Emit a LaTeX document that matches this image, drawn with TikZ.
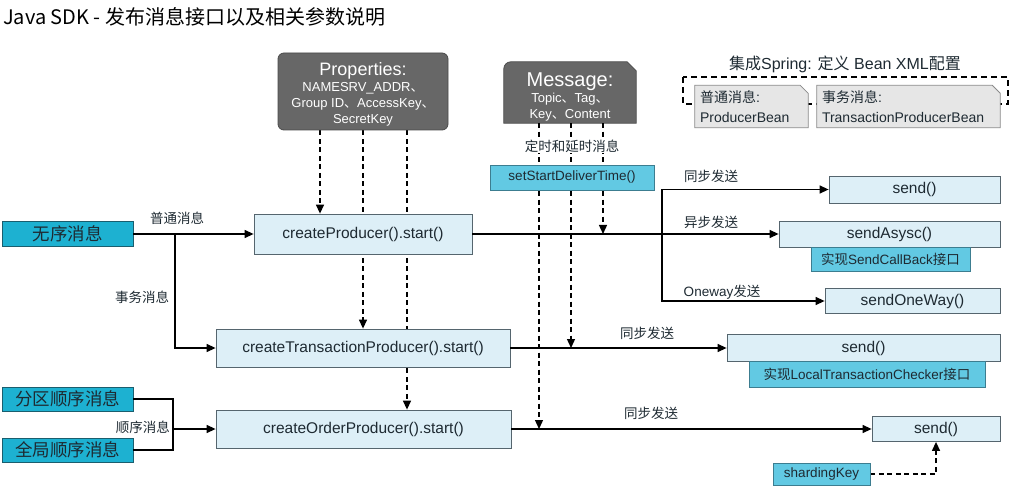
\documentclass[tikz,border=0pt]{standalone}
\usepackage{fontspec}
\setmainfont{Liberation Sans}
\newfontfamily\cjk{Noto Sans CJK SC}
\usetikzlibrary{arrows.meta}
\usetikzlibrary{backgrounds}
\definecolor{propgray}{HTML}{676767}
\definecolor{propedge}{HTML}{4A4A4A}
\definecolor{calfill}{HTML}{DDEFF7}
\definecolor{caledge}{HTML}{55656E}
\definecolor{tealfill}{HTML}{1DB1D1}
\definecolor{tealedge}{HTML}{1A5E6E}
\definecolor{cyanfill}{HTML}{62C9E3}
\definecolor{cyanedge}{HTML}{3C7D90}
\definecolor{beanfill}{HTML}{E6E6E6}
\definecolor{beanedge}{HTML}{8A8A8A}
\definecolor{textdark}{HTML}{1E2A32}
\newcommand{\fsz}[2]{\fontsize{#1}{#2}\selectfont}
\tikzset{callbox/.style={draw=caledge, fill=calfill, line width=0.8pt, inner sep=0pt,
           text=textdark, font=\fsz{15.5}{18}},
         darkbox/.style={draw=propedge, fill=propgray, line width=0.8pt, rounded corners=6pt,
           inner sep=0pt, text=white, align=center},
         typebox/.style={draw=tealedge, fill=tealfill, line width=0.8pt, inner sep=0pt,
           text=textdark, font=\cjk\fsz{17.5}{20}, minimum width=131pt},
         notebox/.style={draw=cyanedge, fill=cyanfill, line width=0.8pt, inner sep=0pt,
           text=textdark, font=\fsz{13.5}{16}},
         beanbox/.style={inner sep=5pt, align=left, minimum height=41pt, text=textdark,
           font=\fsz{14}{20}},
         edgelbl/.style={inner sep=1pt, text=textdark, font=\cjk\fsz{13.5}{16}},
         arr/.style={-{Triangle[length=9pt,width=8pt]}, line width=1.3pt},
         dasharr/.style={arr, dash pattern=on 5pt off 3.5pt}}
\begin{document}
\begin{tikzpicture}[x=1pt,y=-1pt]
\useasboundingbox (0,0) rectangle (1011,486);
\node[anchor=west, inner sep=0pt, font=\cjk\fsz{20}{22}] (title) at (3,17) {Java SDK - 发布消息接口以及相关参数说明};
% parameters
\node[darkbox, minimum width=170pt, minimum height=77pt, font=\fsz{13}{16}] (props) at (363,91.5)
  {\rule{0pt}{19pt}{\fsz{18}{20}Properties:}\\NAMESRV\_ADDR{\cjk 、}\\Group ID{\cjk 、}AccessKey{\cjk 、}\\SecretKey};
\node[inner sep=0pt, minimum width=132pt, minimum height=61pt, text=white, align=center,
  font=\fsz{13}{16}] (msg) at (570,92.5)
  {\rule{0pt}{22.5pt}{\fsz{20}{22}Message:}\\Topic{\cjk 、}Tag{\cjk 、}\\Key{\cjk 、}Content};
\node[edgelbl, fill=white] (delay) at (572,146) {定时和延时消息};
\node[notebox, minimum width=164pt, minimum height=25pt] (start) at (572,177.5) {setStartDeliverTime()};
% spring beans
\node[font=\fsz{16}{18}, inner sep=0pt, text=textdark] (spring) at (845,64)
  {{\cjk 集成}Spring: {\cjk 定义} Bean XML{\cjk 配置}};
\node[beanbox, text width=103pt] (bean1) at (751.5,106.5) {{\cjk 普通消息}:\\ProducerBean};
\node[beanbox, text width=173pt] (bean2) at (908.5,106.5) {{\cjk 事务消息}:\\TransactionProducerBean};
% message types
\node[typebox, minimum height=25pt] (wuxu) at (67.5,234) {无序消息};
\node[typebox, minimum height=24pt] (fenqu) at (67.5,399) {分区顺序消息};
\node[typebox, minimum height=24pt] (quanju) at (67.5,450) {全局顺序消息};
% producers
\node[callbox, minimum width=218pt, minimum height=40pt] (crp) at (363,234) {createProducer().start()};
\node[callbox, minimum width=294pt, minimum height=38pt] (ctp) at (363,348) {createTransactionProducer().start()};
\node[callbox, minimum width=295pt, minimum height=38pt] (cop) at (363.5,429) {createOrderProducer().start()};
% send methods
\node[callbox, minimum width=171pt, minimum height=27pt] (send1) at (914.5,189.5) {send()};
\node[callbox, minimum width=221pt, minimum height=26pt] (sasync) at (889.5,234) {sendAsysc()};
\node[notebox, minimum width=159pt, minimum height=24pt] (cb) at (890.5,259) {{\cjk 实现}SendCallBack{\cjk 接口}};
\node[callbox, minimum width=175pt, minimum height=25pt] (oneway) at (912.5,301) {sendOneWay()};
\node[callbox, minimum width=273pt, minimum height=27pt] (send2) at (863.5,348) {send()};
\node[notebox, minimum width=236pt, minimum height=26pt] (ltc) at (867,374) {{\cjk 实现}LocalTransactionChecker{\cjk 接口}};
\node[callbox, minimum width=128pt, minimum height=25pt] (send3) at (936,429) {send()};
\node[notebox, minimum width=97pt, minimum height=22pt] (shard) at (821.5,474) {shardingKey};
% edge labels
\node[edgelbl] (l1) at (177,218) {普通消息};
\node[edgelbl] (l2) at (142,297) {事务消息};
\node[edgelbl, anchor=east] (l3) at (171,427) {顺序消息};
\node[edgelbl] (l4) at (711,176) {同步发送};
\node[edgelbl] (l5) at (711,222) {异步发送};
\node[edgelbl] (l6) at (722,292) {\fontspec{Liberation Sans}Oneway{\cjk 发送}};
\node[edgelbl] (l7) at (647,333) {同步发送};
\node[edgelbl] (l8) at (651,413) {同步发送};
\coordinate (j1) at (175,234);
\coordinate (j2) at (173,429);
\coordinate (j3) at (662,234);
\begin{scope}[on background layer]
\draw[line width=1.3pt, dash pattern=on 6pt off 4pt] (683,77) rectangle (1008,104);
\foreach \b in {bean1,bean2}
  \filldraw[draw=beanedge, fill=beanfill, line width=0.8pt] (\b.south west) -- (\b.north west)
    -- ([xshift=-8pt]\b.north east) -- ([yshift=-8pt]\b.north east) -- (\b.south east) -- cycle;
\filldraw[draw=propedge, fill=propgray, line width=0.8pt] (msg.south west) -- ([yshift=-7pt]msg.north west)
  arc[start angle=180, end angle=90, radius=7pt] -- ([xshift=-9pt]msg.north east)
  -- ([yshift=-9pt]msg.north east) -- (msg.south east) -- cycle;
\foreach \x/\n in {320/crp,363/ctp,407/cop}
  \draw[dasharr] (\x,0 |- props.south) -- (\x,0 |- \n.north);
\foreach \x/\n in {539/cop,571/ctp,603/crp}
  \draw[dasharr] (\x,0 |- msg.south) -- (\x,0 |- \n.east);
\draw[dasharr] (shard.east) -| (send3.south);
\end{scope}
% flows
\draw[arr] (wuxu.east) -- (crp.west);
\draw[arr] (j1) |- (ctp.west);
\draw[line width=1.3pt] (fenqu.east) -| (j2);
\draw[line width=1.3pt] (quanju.east) -| (j2);
\draw[arr] (j2) -- (cop.west);
\draw[arr] (crp.east) -- (sasync.west);
\draw[arr] (j3) |- (send1.west);
\draw[arr] (j3) |- (oneway.west);
\draw[arr] (ctp.east) -- (send2.west);
\draw[arr] (cop.east) -- (send3.west);
\end{tikzpicture}
\end{document}
